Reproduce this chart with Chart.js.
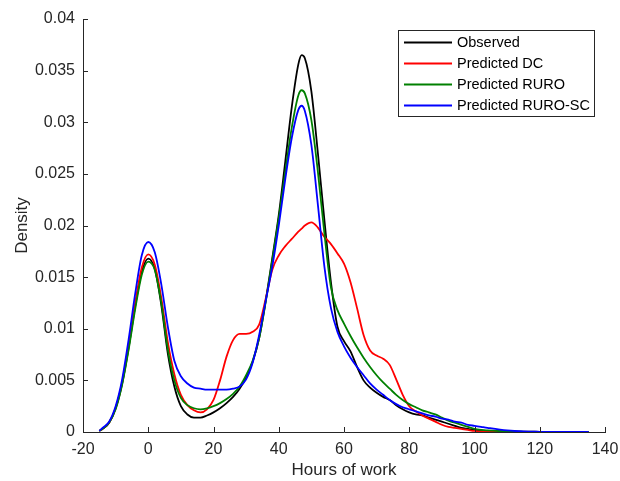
<!DOCTYPE html>
<html>
<head>
<meta charset="utf-8">
<script src="https://cdn.jsdelivr.net/npm/chart.js@4/dist/chart.umd.min.js"></script>
<style>
  body { margin: 0; background: #fff; }
</style>
</head>
<body>
<canvas id="grafico" width="620" height="481"></canvas>
<script>
// hours grid the densities were read at
const hours = [-15, -14, -12, -10, -8, -6, -4, -2, 0, 2, 4, 6, 8, 10, 12, 14, 16, 18, 20, 22, 24, 26, 28, 30,
    32, 34, 36, 38, 40, 42, 44, 46, 47, 48, 50, 52, 54, 56, 58, 60, 62, 64, 66, 68, 70, 72, 74, 76, 78, 80,
    82, 84, 86, 88, 90, 92, 94, 96, 98, 100, 102, 104, 110, 115, 120, 125, 130, 135];

const observed = [0.0001, 0.0003, 0.0009, 0.0023, 0.0047, 0.0082, 0.0122, 0.0155, 0.0168, 0.0158, 0.0123, 0.0076,
    0.0044, 0.0025, 0.0017, 0.0014, 0.0014, 0.0016, 0.0019, 0.0023, 0.0028, 0.0034, 0.0042, 0.0053, 0.0068, 0.0091,
    0.0127, 0.0168, 0.0210, 0.0262, 0.0315, 0.0356, 0.0365, 0.0362, 0.0330, 0.0270, 0.0205, 0.0145, 0.0102, 0.0088,
    0.0078, 0.0063, 0.0050, 0.0043, 0.0038, 0.0034, 0.0031, 0.0026, 0.0022, 0.0019, 0.0017, 0.0016, 0.0014, 0.0012,
    0.0010, 0.0008, 0.0006, 0.0004, 0.0003, 0.0002, 0.00015, 0.0001, 0.00005, 0.00003, 0.00002, 0.00001, 0.00001, 0];

const predictedDC = [0.0001, 0.0003, 0.0009, 0.0023, 0.0048, 0.0084, 0.0125, 0.0159, 0.0172, 0.0162, 0.0130, 0.0087,
    0.0056, 0.0036, 0.0026, 0.0021, 0.0019, 0.0022, 0.0031, 0.0050, 0.0073, 0.0089, 0.0095, 0.0095, 0.0097, 0.0104,
    0.0129, 0.0157, 0.0171, 0.0180, 0.0187, 0.0194, 0.0197, 0.0200, 0.0203, 0.0198, 0.0189, 0.0182, 0.0173, 0.0163,
    0.0145, 0.0120, 0.0094, 0.0079, 0.0074, 0.0071, 0.0065, 0.0051, 0.0036, 0.0025, 0.0020, 0.0016, 0.0013, 0.0010,
    0.0007, 0.0005, 0.0004, 0.0003, 0.0002, 0.0001, 0.00006, 0.00003, 0.00001, 0, 0, 0, 0, 0];

const predictedRURO = [0.0001, 0.0003, 0.0009, 0.0022, 0.0046, 0.0080, 0.0119, 0.0152, 0.0165, 0.0157, 0.0125, 0.0080,
    0.0050, 0.0033, 0.0026, 0.0023, 0.0022, 0.0023, 0.0025, 0.0028, 0.0032, 0.0037, 0.0044, 0.0055, 0.0069, 0.0091,
    0.0126, 0.0166, 0.0207, 0.0252, 0.0295, 0.0326, 0.0331, 0.0328, 0.0302, 0.0252, 0.0192, 0.0140, 0.0118, 0.0105,
    0.0093, 0.0082, 0.0072, 0.0063, 0.0055, 0.0048, 0.0042, 0.0036, 0.0031, 0.0027, 0.0024, 0.0021, 0.0019, 0.0017,
    0.0014, 0.0011, 0.0009, 0.0007, 0.0005, 0.0003, 0.0002, 0.00015, 0.00005, 0.00002, 0.00001, 0, 0, 0];

const predictedRUROSC = [0.0001, 0.0004, 0.0010, 0.0025, 0.0051, 0.0090, 0.0134, 0.0171, 0.0184, 0.0174, 0.0143, 0.0102,
    0.0069, 0.0054, 0.0047, 0.0043, 0.0042, 0.0041, 0.0041, 0.0041, 0.0041, 0.0042, 0.0044, 0.0051, 0.0067, 0.0094,
    0.0127, 0.0160, 0.0200, 0.0245, 0.0285, 0.0312, 0.0316, 0.0311, 0.0278, 0.0220, 0.0160, 0.0120, 0.0097, 0.0083,
    0.0072, 0.0063, 0.0055, 0.0047, 0.0041, 0.0036, 0.0031, 0.0027, 0.0024, 0.0022, 0.0020, 0.0018, 0.0016, 0.0015,
    0.0013, 0.0012, 0.0010, 0.0009, 0.0007, 0.0006, 0.0005, 0.0004, 0.00015, 0.00005, 0.00002, 0.00001, 0.00001, 0];

const seriesNames = ['Observed', 'Predicted DC', 'Predicted RURO', 'Predicted RURO-SC'];
const seriesColors = ['#000000', '#ff0000', '#008000', '#0000ff'];
const xTicks = [-20, 0, 20, 40, 60, 80, 100, 120, 140];
const yTicks = [0, 0.005, 0.01, 0.015, 0.02, 0.025, 0.03, 0.035, 0.04];

const corEixo = '#262626';
const fonte = '"Liberation Sans", Arial, sans-serif';

function pontos(valores) {
    return hours.map((h, i) => ({ x: h, y: valores[i] }));
}

// MATLAB style: ticks pointing into the plot
const ticksParaDentro = {
    id: 'ticksParaDentro',
    afterDraw(chart) {
        const { ctx, chartArea, scales } = chart;
        ctx.save();
        ctx.strokeStyle = corEixo;
        ctx.lineWidth = 1;
        ctx.beginPath();
        scales.x.ticks.forEach(t => {
            const px = Math.round(scales.x.getPixelForValue(t.value)) + 0.5;
            ctx.moveTo(px, chartArea.bottom);
            ctx.lineTo(px, chartArea.bottom - 5);
        });
        scales.y.ticks.forEach(t => {
            const py = Math.round(scales.y.getPixelForValue(t.value)) + 0.5;
            ctx.moveTo(chartArea.left, py);
            ctx.lineTo(chartArea.left + 5, py);
        });
        ctx.stroke();
        ctx.restore();
    }
};

// boxed legend in the upper right corner
const legendaCaixa = {
    id: 'legendaCaixa',
    afterDraw(chart) {
        const { ctx, chartArea } = chart;
        const sets = chart.data.datasets;
        const right = chartArea.right - 11;
        const left = right - 196;
        const top = chartArea.top + 11;
        const rowH = 21;
        const height = sets.length * rowH + 2;
        ctx.save();
        ctx.fillStyle = '#ffffff';
        ctx.fillRect(left, top, right - left, height);
        ctx.strokeStyle = corEixo;
        ctx.lineWidth = 1;
        ctx.strokeRect(Math.round(left) + 0.5, Math.round(top) + 0.5, right - left, height);
        ctx.font = '14.5px ' + fonte;
        ctx.textBaseline = 'middle';
        sets.forEach((ds, i) => {
            const y = top + 12.5 + i * rowH;
            ctx.strokeStyle = ds.borderColor;
            ctx.lineWidth = 1.8;
            ctx.beginPath();
            ctx.moveTo(left + 6, y);
            ctx.lineTo(left + 54, y);
            ctx.stroke();
            ctx.fillStyle = '#000000';
            ctx.fillText(ds.label, left + 59, y);
        });
        ctx.restore();
    }
};

const listas = [observed, predictedDC, predictedRURO, predictedRUROSC];

new Chart(document.getElementById('grafico'), {
    type: 'line',
    data: {
        datasets: listas.map((valores, i) => ({
            label: seriesNames[i],
            data: pontos(valores),
            borderColor: seriesColors[i],
            borderWidth: 1.8,
            pointRadius: 0,
            fill: false,
            cubicInterpolationMode: 'monotone',
            order: listas.length - i
        }))
    },
    options: {
        responsive: false,
        animation: false,
        events: [],
        layout: { padding: { top: 19, right: 15 } },
        plugins: {
            legend: { display: false },
            tooltip: { enabled: false }
        },
        scales: {
            x: {
                type: 'linear',
                min: -20,
                max: 140,
                afterBuildTicks: s => { s.ticks = xTicks.map(v => ({ value: v })); },
                afterFit: s => { s.height = 49; s.paddingLeft = 0; s.paddingRight = 0; },
                grid: { display: false, drawTicks: false },
                border: { display: true, color: corEixo, width: 1 },
                ticks: {
                    color: corEixo,
                    padding: 8,
                    maxRotation: 0,
                    font: { family: fonte, size: 16 },
                    callback: v => String(v)
                },
                title: {
                    display: true,
                    text: 'Hours of work',
                    color: corEixo,
                    padding: { top: 0, bottom: 0 },
                    font: { family: fonte, size: 17 }
                }
            },
            y: {
                type: 'linear',
                min: 0,
                max: 0.04,
                afterBuildTicks: s => { s.ticks = yTicks.map(v => ({ value: v })); },
                afterFit: s => { s.width = 83; },
                grid: { display: false, drawTicks: false },
                border: { display: true, color: corEixo, width: 1 },
                ticks: {
                    color: corEixo,
                    padding: 8,
                    font: { family: fonte, size: 16 },
                    callback: v => String(+v.toFixed(3))
                },
                title: {
                    display: true,
                    text: 'Density',
                    color: corEixo,
                    padding: { top: 12, bottom: 0 },
                    font: { family: fonte, size: 17 }
                }
            }
        }
    },
    plugins: [ticksParaDentro, legendaCaixa]
});
</script>
</body>
</html>
